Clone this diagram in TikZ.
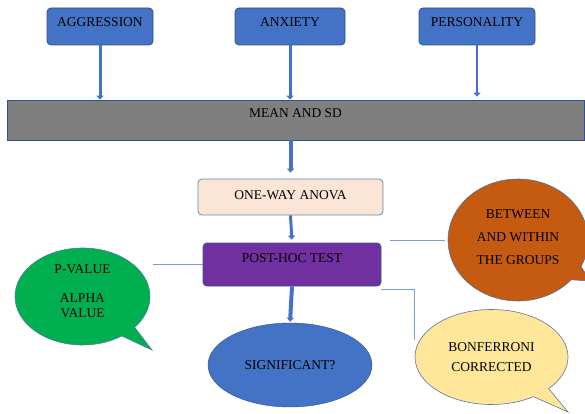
\documentclass[tikz,border=0pt]{standalone}
\usepackage{fontspec}
\setmainfont{Liberation Serif}
\usetikzlibrary{shapes.geometric,shapes.callouts,arrows.meta}
\definecolor{boxblue}{HTML}{4472C4}
\definecolor{edgeblue}{HTML}{2F528F}
\definecolor{barGray}{HTML}{7F7F7F}
\definecolor{peach}{HTML}{FBE5D6}
\definecolor{purp}{HTML}{7030A0}
\definecolor{grn}{HTML}{00B050}
\definecolor{orng}{HTML}{C55A11}
\definecolor{yel}{HTML}{FFE699}
\begin{document}
\begin{tikzpicture}[x=1pt,y=-1pt,
    font=\fontsize{13.5}{15}\selectfont,
    varbox/.style={draw=edgeblue,fill=boxblue,rounded corners=4pt,line width=0.8pt,
      minimum height=37pt,text depth=9pt},
    flowbox/.style={draw=edgeblue!70,rounded corners=4pt,line width=0.8pt},
    bubble/.style={ellipse callout,draw=edgeblue!80,line width=0.6pt,align=center,inner sep=0pt},
    flowline/.style={boxblue,line width=3pt,-{Triangle[width=7pt,length=4pt]}},
    thinline/.style={boxblue!70,line width=0.7pt},
  ]
\useasboundingbox (0,0) rectangle (585,414);
% three measures
\node[varbox,minimum width=106pt] (aggr) at (100,26.5) {AGGRESSION};
\node[varbox,minimum width=110pt] (anx) at (290,26.5) {ANXIETY};
\node[varbox,minimum width=116pt] (pers) at (477,26.5) {PERSONALITY};
\node[draw=edgeblue,fill=barGray,line width=0.8pt,minimum width=577pt,minimum height=40pt,
  text depth=14pt] (bar) at (295.5,120) {MEAN AND SD};
\draw[flowline] (aggr.south) -- (aggr.south |- bar.north);
\draw[flowline] (anx.south) -- (anx.south |- bar.north);
\draw[flowline,line width=2pt,shorten >=3pt] (pers.south) -- (pers.south |- bar.north);
% tests
\node[flowbox,fill=peach,minimum width=185pt,minimum height=36pt,text depth=4pt] (anova) at (290.5,197) {ONE-WAY ANOVA};
\node[flowbox,draw=edgeblue,fill=purp,minimum width=178pt,minimum height=43pt,text depth=12pt]
  (posthoc) at (292,264.5) {POST-HOC TEST};
\node[ellipse,draw=edgeblue,fill=boxblue,minimum width=164pt,minimum height=84pt] (sig) at (290,365) {SIGNIFICANT?};
\draw[flowline,line width=4pt,shorten >=6pt] (bar.south -| anova.north) -- (anova.north);
\draw[flowline,shorten >=3pt] (anova.south) -- (posthoc.north);
\draw[flowline,line width=4pt,shorten >=1pt] (posthoc.south) -- (sig.north);
% bubbles
\node[bubble,fill=grn,minimum width=135pt,minimum height=97pt,callout absolute pointer={(152,350)}]
  (pval) at (82.5,296.5) {P-VALUE\\[14pt] ALPHA\\ VALUE\\[-4pt]\mbox{}};
\node[bubble,fill=orng,minimum width=140pt,minimum height=122pt,callout absolute pointer={(590,281)}]
  (betw) at (518,240) {BETWEEN\\[8pt] AND WITHIN\\[8pt] THE GROUPS\\[-9pt]\mbox{}};
\node[bubble,fill=yel,minimum width=153pt,minimum height=95pt,callout absolute pointer={(568,412)}]
  (bonf) at (491.5,357) {BONFERRONI\\[5pt] CORRECTED};
\draw[thinline,shorten >=3pt] (posthoc.west) -- (posthoc.west -| pval.east);
\draw[thinline,shorten <=9pt,shorten >=3pt] (posthoc.east |- betw.west) -- (betw.west);
\draw[thinline] ([yshift=-3pt]posthoc.south east) -| ([yshift=17pt]bonf.west);
\end{tikzpicture}
\end{document}
